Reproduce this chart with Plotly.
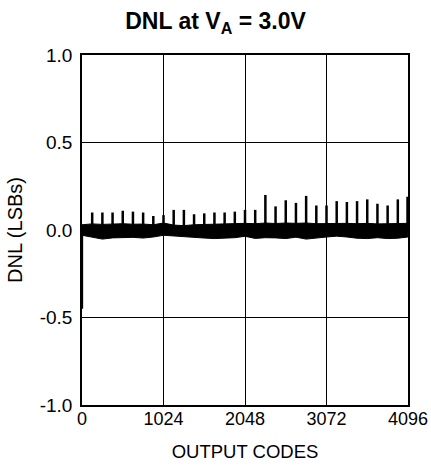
import plotly.graph_objects as go

# ---- data ----
x_ticks = [0, 1024, 2048, 3072, 4096]
x_tick_labels = ["0", "1024", "2048", "3072", "4096"]
y_ticks = [-1.0, -0.5, 0.0, 0.5, 1.0]
y_tick_labels = ["-1.0", "-0.5", "0.0", "0.5", "1.0"]

# noise band envelope (upper / lower edge), sampled every 128 codes
env_codes = [0, 128, 256, 384, 512, 640, 768, 896, 1024, 1152, 1280, 1408, 1536,
             1664, 1792, 1920, 2048, 2176, 2304, 2432, 2560, 2688, 2816, 2944,
             3072, 3200, 3328, 3456, 3584, 3712, 3840, 3968, 4095]
env_upper = [0.030, 0.035, 0.032, 0.034, 0.036, 0.033, 0.034, 0.030, 0.040, 0.028,
             0.025, 0.030, 0.032, 0.034, 0.033, 0.035, 0.038, 0.036, 0.040, 0.037,
             0.040, 0.038, 0.040, 0.036, 0.038, 0.036, 0.038, 0.036, 0.038, 0.035,
             0.036, 0.037, 0.038]
env_lower = [-0.030, -0.040, -0.052, -0.045, -0.044, -0.042, -0.046, -0.040, -0.030,
             -0.034, -0.040, -0.042, -0.046, -0.049, -0.047, -0.044, -0.036, -0.048,
             -0.044, -0.045, -0.049, -0.041, -0.052, -0.047, -0.040, -0.035, -0.040,
             -0.047, -0.049, -0.044, -0.049, -0.047, -0.040]

# periodic positive DNL spikes
spike_codes = [128, 256, 384, 512, 640, 768, 896, 1024, 1152, 1280, 1408, 1536,
               1664, 1792, 1920, 2048, 2176, 2304, 2432, 2560, 2688, 2816, 2944,
               3072, 3200, 3328, 3456, 3584, 3712, 3840, 3968, 4090]
spike_values = [0.100, 0.100, 0.100, 0.110, 0.105, 0.100, 0.080, 0.085, 0.115, 0.115,
                0.090, 0.095, 0.100, 0.100, 0.105, 0.115, 0.115, 0.200, 0.135, 0.170,
                0.155, 0.195, 0.140, 0.140, 0.165, 0.160, 0.165, 0.175, 0.150, 0.140,
                0.175, 0.190]

# initial code DNL dip
dip_code = [2]
dip_value = [-0.45]

# ---- figure ----
FONT = "Liberation Sans, Arial, sans-serif"
fig = go.Figure()

band_x = env_codes + env_codes[::-1]
band_y = env_upper + env_lower[::-1]
fig.add_trace(go.Scatter(x=band_x, y=band_y, mode="lines", fill="toself",
                         fillcolor="black", line=dict(color="black", width=1),
                         hoverinfo="skip", showlegend=False))

sx, sy = [], []
for c, v in zip(spike_codes, spike_values):
    sx += [c, c, None]
    sy += [0.0, v, None]
fig.add_trace(go.Scatter(x=sx, y=sy, mode="lines",
                         line=dict(color="black", width=2.5),
                         showlegend=False))

dx, dy = [], []
for c, v in zip(dip_code, dip_value):
    dx += [c, c, None]
    dy += [0.0, v, None]
fig.add_trace(go.Scatter(x=dx, y=dy, mode="lines",
                         line=dict(color="black", width=2),
                         showlegend=False))

axis_common = dict(showgrid=True, gridcolor="black", gridwidth=1,
                   showline=True, linecolor="black", linewidth=1.5, mirror=True,
                   zeroline=False, ticks="", color="black")

fig.update_xaxes(range=[0, 4096], tickvals=x_ticks, ticktext=x_tick_labels,
                 tickfont=dict(family=FONT, size=18, color="black"),
                 title=dict(text="OUTPUT CODES", font=dict(family=FONT, size=18.5, color="black"),
                            standoff=17),
                 ticklabelstandoff=-3, **axis_common)
fig.update_yaxes(range=[-1, 1], tickvals=y_ticks, ticktext=y_tick_labels,
                 tickfont=dict(family=FONT, size=19, color="black"),
                 title=dict(text="DNL (LSBs)", font=dict(family=FONT, size=20, color="black"),
                            standoff=12),
                 ticklabelstandoff=4, **axis_common)

fig.update_layout(
    width=431, height=468,
    margin=dict(l=82, r=23, t=55, b=63, autoexpand=False),
    paper_bgcolor="white", plot_bgcolor="white",
    title=dict(text="<b>DNL at V<sub>A</sub> = 3.0V</b>",
               font=dict(family=FONT, size=23, color="black"),
               x=0.5, xref="container", xanchor="center",
               y=1 - 21 / 468, yref="container", yanchor="middle"),
)

fig.write_html("out.html",
               config={"displayModeBar": False},
               post_script="document.body.style.margin='0px';"
                           "document.body.style.overflow='hidden';")
